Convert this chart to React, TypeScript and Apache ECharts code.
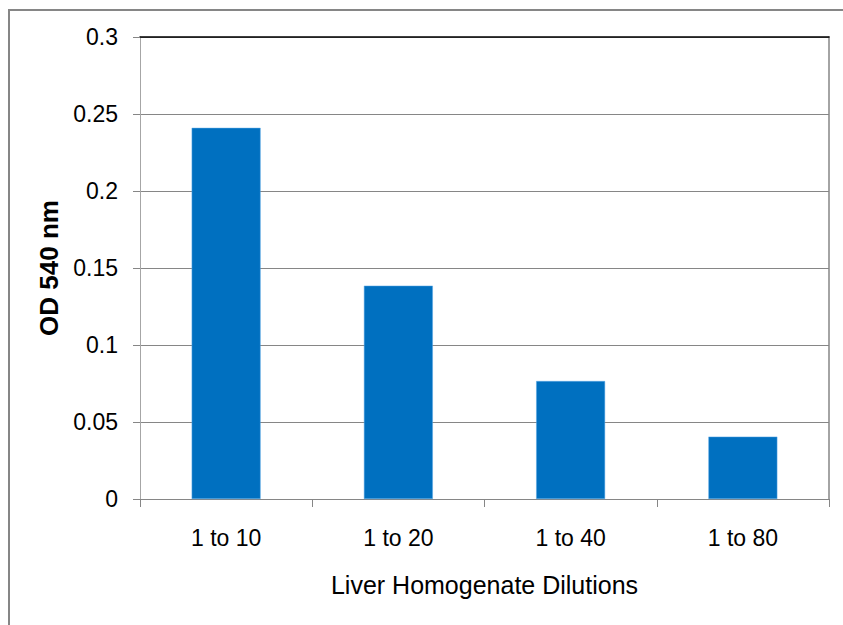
import React, { useEffect, useRef } from "react";
import * as echarts from "echarts";

const categories = ["1 to 10", "1 to 20", "1 to 40", "1 to 80"];
const odValues = [0.241, 0.1385, 0.0766, 0.0405];
const yTicks = { min: 0, max: 0.3, interval: 0.05 };
const xName = "Liver Homogenate Dilutions";
const yName = "OD 540 nm";

export default function App() {
  const ref = useRef<HTMLDivElement>(null);
  useEffect(() => {
    document.body.style.margin = "0";
    const chart = echarts.init(ref.current!, undefined, { renderer: "svg" });
    const font = "Arial, 'Liberation Sans', sans-serif";
    chart.setOption({
      animation: false,
      backgroundColor: "#ffffff",
      graphic: [
        {
          type: "rect",
          shape: { x: 9, y: 10, width: 860, height: 640 },
          style: { fill: "none", stroke: "#868686", lineWidth: 2 },
          silent: true,
        },
      ],
      grid: { left: 140, top: 37, right: 14, bottom: 126, containLabel: false },
      xAxis: [
        {
          type: "category",
          data: categories,
          boundaryGap: true,
          axisLine: { show: true, lineStyle: { color: "#868686", width: 1 } },
          axisTick: { show: true, length: 8, alignWithLabel: false, lineStyle: { color: "#868686" } },
          axisLabel: { color: "#000", fontSize: 23, fontFamily: font, margin: 27 },
          name: xName,
          nameLocation: "middle",
          nameGap: 73,
          nameTextStyle: { color: "#000", fontSize: 25, fontFamily: font },
        },
        {
          type: "category",
          data: categories,
          position: "top",
          axisLine: { show: true, onZero: false, lineStyle: { color: "#000", width: 1.5 } },
          axisTick: { show: false },
          axisLabel: { show: false },
        },
      ],
      yAxis: [
        {
          type: "value",
          min: yTicks.min,
          max: yTicks.max,
          interval: yTicks.interval,
          axisLine: { show: true, lineStyle: { color: "#a6a6a6", width: 1 } },
          axisTick: { show: true, length: 7, lineStyle: { color: "#868686" } },
          axisLabel: { color: "#000", fontSize: 23, fontFamily: font, margin: 22 },
          splitLine: { show: true, lineStyle: { color: "#868686", width: 1 } },
          name: yName,
          nameLocation: "middle",
          nameGap: 77,
          nameTextStyle: { color: "#000", fontSize: 26, fontWeight: "bold", fontFamily: font },
        },
        {
          type: "value",
          position: "right",
          min: yTicks.min,
          max: yTicks.max,
          interval: yTicks.interval,
          axisLine: { show: true, lineStyle: { color: "#868686", width: 1.5 } },
          axisTick: { show: false },
          axisLabel: { show: false },
          splitLine: { show: false },
        },
      ],
      series: [
        {
          type: "bar",
          data: odValues,
          barWidth: "40%",
          itemStyle: { color: "#0070C0", borderColor: "#5aa9e6", borderWidth: 0.5 },
        },
      ],
    });
    return () => chart.dispose();
  }, []);
  return <div ref={ref} style={{ width: 843, height: 625 }} />;
}
